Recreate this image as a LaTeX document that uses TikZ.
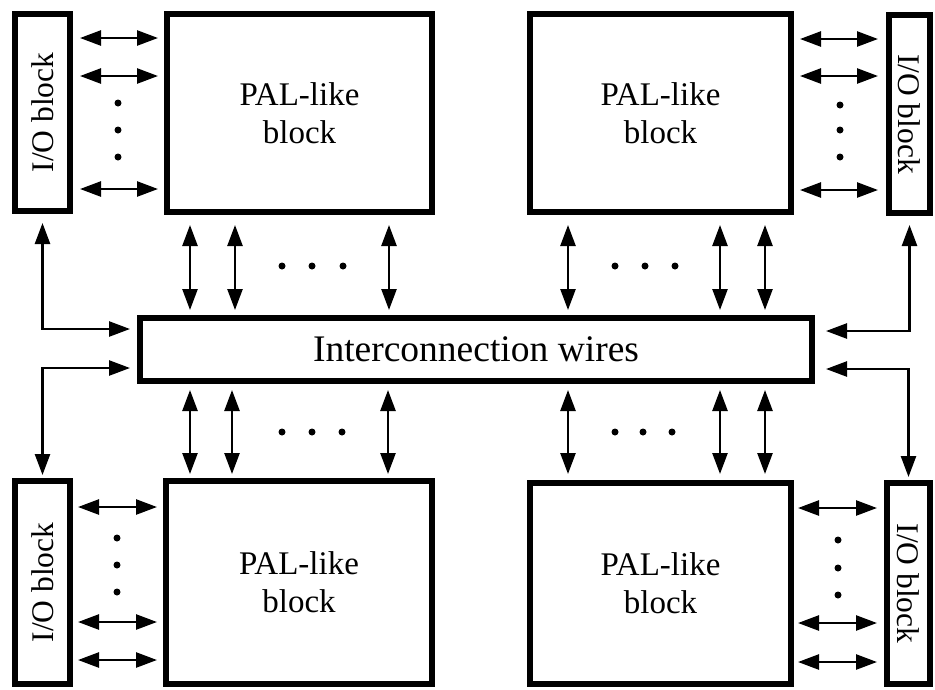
\documentclass[tikz,border=0pt]{standalone}
\usepackage{fontspec}
\setmainfont{Liberation Serif}
\usetikzlibrary{arrows.meta}
\tikzset{
  blk/.style={draw, line width=6pt, inner sep=0pt, rectangle},
  paltext/.style={font=\fontsize{33}{38}\selectfont, align=center},
  iotext/.style={font=\fontsize{31.5}{36}\selectfont, inner sep=0pt},
  bi/.style={line width=2.5pt, {Triangle[length=21pt,width=15pt]}-{Triangle[length=21pt,width=15pt]}},
  dotc/.style={fill=black}
}
\begin{document}
\begin{tikzpicture}[x=1pt,y=-1pt]
\useasboundingbox (0,0) rectangle (935,689);
% blocks
\node[blk, minimum width=55, minimum height=197] (ioTL) at (42.5,112.5) {};
\node[blk, minimum width=265, minimum height=198, paltext] (palTL) at (299.5,113) {PAL-like\\block};
\node[blk, minimum width=261, minimum height=198, paltext] (palTR) at (660.5,113) {PAL-like\\block};
\node[blk, minimum width=41, minimum height=198] (ioTR) at (909.5,114) {};
\node[blk, minimum width=672, minimum height=63, font=\fontsize{37.5}{40}\selectfont] (ic) at (476,349.5) {Interconnection wires};
\node[blk, minimum width=55, minimum height=203] (ioBL) at (42.5,582.5) {};
\node[blk, minimum width=266, minimum height=203, paltext] (palBL) at (299,582.5) {PAL-like\\block};
\node[blk, minimum width=261, minimum height=201, paltext] (palBR) at (660.5,583.5) {PAL-like\\block};
\node[blk, minimum width=43, minimum height=201] (ioBR) at (908.5,583.5) {};
% I/O labels
\node[iotext, rotate=90] (tTL) at (ioTL) {I/O block};
\node[iotext, rotate=-90] (tTR) at (ioTR) {I/O block};
\node[iotext, rotate=90] (tBL) at (ioBL) {I/O block};
\node[iotext, rotate=-90] (tBR) at (ioBR) {I/O block};
% top-left horizontal arrows
\foreach \yy in {38,76,189}
  \draw[bi, shorten <=7pt, shorten >=6pt] (ioTL.east |- 0,\yy) -- (palTL.west |- 0,\yy);
\foreach \yy in {103,130,157} \fill[dotc] (118,\yy) circle (3.5pt);
% top-right horizontal arrows
\foreach \yy in {39,76,190}
  \draw[bi, shorten <=6pt, shorten >=8pt] (palTR.east |- 0,\yy) -- (ioTR.west |- 0,\yy);
\foreach \yy in {105,130,157} \fill[dotc] (840,\yy) circle (3.5pt);
% bottom-left horizontal arrows
\foreach \yy in {507,622,660}
  \draw[bi, shorten <=5pt, shorten >=6pt] (ioBL.east |- 0,\yy) -- (palBL.west |- 0,\yy);
\foreach \yy in {538,565,592} \fill[dotc] (117,\yy) circle (3.5pt);
% bottom-right horizontal arrows
\foreach \yy in {508,623,662}
  \draw[bi, shorten <=4pt, shorten >=7pt] (palBR.east |- 0,\yy) -- (ioBR.west |- 0,\yy);
\foreach \yy in {540,568,595} \fill[dotc] (838,\yy) circle (3.5pt);
% top vertical arrows
\foreach \xx in {190,235,389}
  \draw[bi, shorten <=10pt, shorten >=5pt] (palTL.south -| \xx,0) -- (ic.north -| \xx,0);
\foreach \xx in {568,720,765}
  \draw[bi, shorten <=10pt, shorten >=5pt] (palTR.south -| \xx,0) -- (ic.north -| \xx,0);
\foreach \xx in {282,312,343,615,645,675} \fill[dotc] (\xx,266) circle (3.5pt);
% bottom vertical arrows
\foreach \xx in {190,232,388}
  \draw[bi, shorten <=6pt, shorten >=4pt] (ic.south -| \xx,0) -- (palBL.north -| \xx,0);
\foreach \xx in {568,720,765}
  \draw[bi, shorten <=6pt, shorten >=6pt] (ic.south -| \xx,0) -- (palBR.north -| \xx,0);
\foreach \xx in {282,312,342,615,643,672} \fill[dotc] (\xx,432) circle (3.5pt);
% L-shaped I/O connections
\draw[bi, shorten <=9pt, shorten >=7pt] (ioTL.south) |- (ic.west |- 0,329);
\draw[bi, shorten <=7pt, shorten >=3pt] (ic.west |- 0,368) -| (ioBL.north);
\draw[bi, shorten <=9pt, shorten >=11pt] (ioTR.south) |- (ic.east |- 0,331);
\draw[bi, shorten <=11pt, shorten >=3pt] (ic.east |- 0,369) -| (ioBR.north);
\end{tikzpicture}
\end{document}
